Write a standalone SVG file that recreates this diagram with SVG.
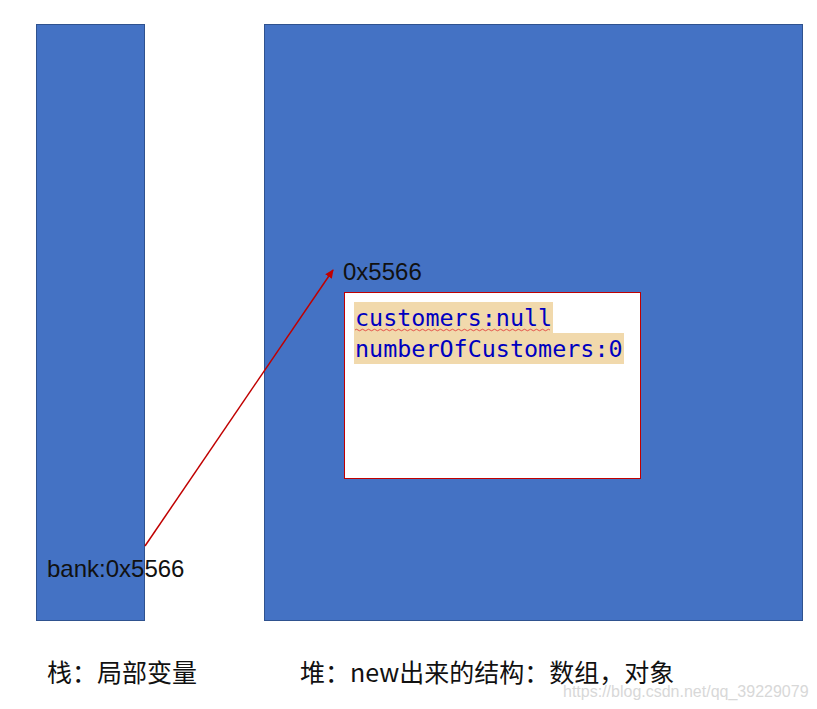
<svg xmlns="http://www.w3.org/2000/svg" width="817" height="709" viewBox="0 0 817 709">
<style>
.mem{fill:#4472C4;stroke:#2F528F;stroke-width:1}
.lbl{font-family:"Liberation Sans","Noto Sans CJK SC",sans-serif;font-size:24px;fill:#111}
.cn{font-family:"Noto Sans CJK SC","Liberation Sans",sans-serif;font-size:25px;fill:#111}
.code{font-family:"DejaVu Sans Mono",monospace;font-size:23.4px;fill:#0000C0}
.hl{fill:#F1D9AC}
</style>
<defs>
<marker id="ah" markerWidth="10" markerHeight="10" refX="8" refY="5" orient="auto" markerUnits="userSpaceOnUse">
<path d="M0,1 L9,5 L0,9 Z" fill="#C00000"/>
</marker>
</defs>
<rect width="817" height="709" fill="#fff"/>
<g id="stack">
<rect class="mem" x="36.5" y="24.5" width="108" height="596"/>
<text class="lbl" x="47" y="577">bank:0x5566</text>
</g>
<g id="heap">
<rect class="mem" x="264.5" y="24.5" width="538" height="596"/>
</g>
<g id="object">
<text class="lbl" x="343" y="280">0x5566</text>
<rect x="344.5" y="292.5" width="296" height="186" fill="#fff" stroke="#C00000" stroke-width="1"/>
<rect class="hl" x="354" y="302" width="199" height="31"/>
<rect class="hl" x="354" y="333" width="270" height="31"/>
<text class="code" x="355" y="326">customers:null</text>
<text class="code" x="355" y="357">numberOfCustomers:0</text>
<path d="M355,330 q1.5,-1.5 3,0 t3,0 t3,0 t3,0 t3,0 t3,0 t3,0 t3,0 t3,0 t3,0 t3,0 t3,0 t3,0 t3,0 t3,0 t3,0 t3,0 t3,0 t3,0 t3,0 t3,0 t3,0 t3,0 t3,0 t3,0 t3,0 t3,0 t3,0 t3,0 t3,0 t3,0 t3,0 t3,0 t3,0 t3,0 t3,0 t3,0 t3,0 t3,0 t3,0 t3,0 t3,0 t3,0 t3,0 t3,0 t3,0 t3,0 t3,0 t3,0 t3,0 t3,0 t3,0 t3,0 t3,0 t3,0 t3,0 t3,0 t3,0 t3,0 t3,0 t3,0 t3,0 t3,0 t3,0 t3,0" fill="none" stroke="#E03030" stroke-width="0.8"/>
</g>
<g id="connectors">
<line x1="145" y1="546" x2="333" y2="270" stroke="#C00000" stroke-width="1.5" marker-end="url(#ah)"/>
</g>
<g id="captions">
<text class="cn" x="47" y="682">栈：局部变量</text>
<text class="cn" x="300" y="682">堆：new出来的结构：数组，对象</text>
<text x="563" y="697" font-family="Liberation Sans,sans-serif" font-size="16" fill="#D8D8D8">https://blog.csdn.net/qq_39229079</text>
</g>
</svg>
